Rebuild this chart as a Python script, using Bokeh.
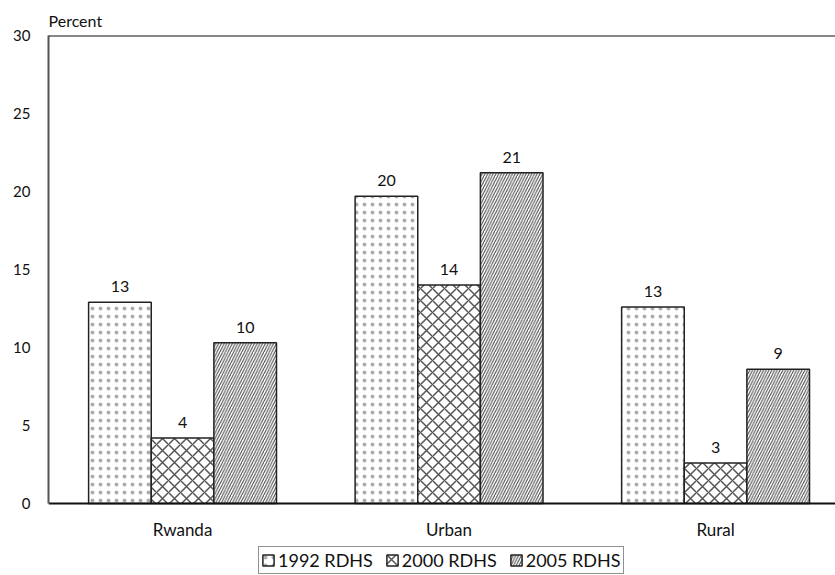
from bokeh.plotting import figure
from bokeh.models import ColumnDataSource, Span, Legend, LegendItem, FixedTicker, Range1d
from bokeh.transform import dodge
from bokeh.core.properties import value
from bokeh.embed import file_html
from bokeh.resources import INLINE

categories = ["Rwanda", "Urban", "Rural"]
series = ["1992 RDHS", "2000 RDHS", "2005 RDHS"]
v1992 = [12.9, 19.7, 12.6]
v2000 = [4.2, 14.0, 2.6]
v2005 = [10.3, 21.2, 8.6]
labels1992 = ["13", "20", "13"]
labels2000 = ["4", "14", "3"]
labels2005 = ["10", "21", "9"]
y_ticks = [0, 5, 10, 15, 20, 25, 30]

FONT = "Lato"
idx = list(range(len(categories)))
src = ColumnDataSource(dict(x=idx, v1992=v1992, v2000=v2000, v2005=v2005,
                            l1992=labels1992, l2000=labels2000, l2005=labels2005))

# frame reaches the bottom of the page; the value axis starts at 0 (room below for labels + legend)
p = figure(frame_width=787, frame_height=540, output_backend="svg", toolbar_location=None,
           x_range=Range1d(-0.503, 2.45), y_range=Range1d(-4.615, 30),
           min_border_left=48, min_border_right=0, min_border_top=35, min_border_bottom=0)
p.title.text = "Percent"
p.title.text_font = FONT
p.title.text_font_size = "16px"
p.title.text_font_style = "normal"
p.title.text_color = "#111111"
p.title.offset = 0
p.title.standoff = 11

bw = 0.235
specs = [("v1992", "l1992", -bw, "dot", 8, 0.5, "#777777", 0.6),
         ("v2000", "l2000", 0.0, "diagonal_cross", 12, 1.5, "#555555", 1.0),
         ("v2005", "l2005", bw, "right_diagonal_line", 5.5, 1.0, "#444444", 1.0)]
renderers = []
for col, lcol, off, hp, hs, hw, hc, ha in specs:
    r = p.vbar(x=dodge("x", off), top=col, width=bw, bottom=0, source=src,
               fill_color="white", line_color="#222222", line_width=1.5,
               hatch_pattern=hp, hatch_color=hc, hatch_scale=hs, hatch_weight=hw,
               hatch_alpha=ha)
    renderers.append(r)
    p.text(x=dodge("x", off), y=col, text=lcol, source=src, text_align="center",
           text_baseline="bottom", y_offset=-10, text_font=value(FONT), text_font_size="16px",
           text_color="#111111")

p.add_layout(Span(location=30, dimension="width", line_color="#111111", line_width=2))

p.xgrid.visible = False
p.ygrid.visible = False
p.outline_line_color = None

p.yaxis.ticker = FixedTicker(ticks=y_ticks)
p.yaxis.bounds = (0, 30)
p.yaxis.major_tick_line_color = None
p.yaxis.minor_tick_line_color = None
p.yaxis.axis_line_color = "#555555"
p.yaxis.axis_line_width = 2
p.yaxis.major_label_text_font = FONT
p.yaxis.major_label_text_font_size = "15px"
p.yaxis.major_label_text_color = "#111111"
p.yaxis.major_label_standoff = 12

p.xaxis.fixed_location = 0
p.xaxis.ticker = FixedTicker(ticks=idx)
p.xaxis.major_label_overrides = {i: c for i, c in enumerate(categories)}
p.xaxis.major_tick_line_color = None
p.xaxis.minor_tick_line_color = None
p.xaxis.axis_line_color = "#111111"
p.xaxis.axis_line_width = 2
p.xaxis.major_label_text_font = FONT
p.xaxis.major_label_text_font_size = "17px"
p.xaxis.major_label_text_color = "#111111"
p.xaxis.major_label_standoff = 9

legend = Legend(items=[LegendItem(label=s, renderers=[r]) for s, r in zip(series, renderers)],
                orientation="horizontal", location=(210, 1))
legend.label_text_font = FONT
legend.label_text_font_size = "18px"
legend.label_text_color = "#111111"
legend.glyph_width = 14
legend.glyph_height = 14
legend.label_standoff = 3
legend.spacing = 12
legend.padding = 2
legend.margin = 0
legend.border_line_color = "#222222"
legend.border_line_width = 1.5
legend.label_height = 18
p.add_layout(legend, "center")

open("out.html", "w").write(file_html(p, INLINE))
